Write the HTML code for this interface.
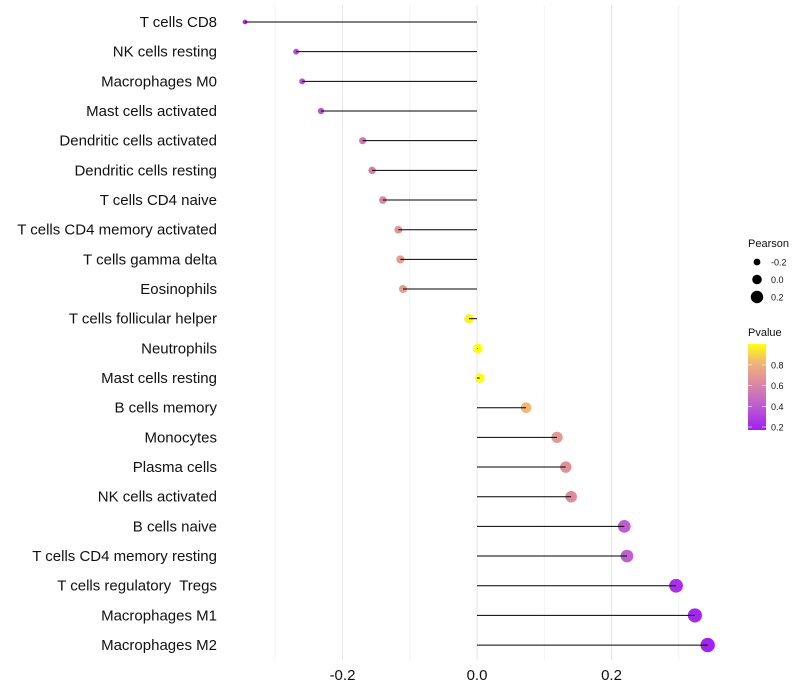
<!DOCTYPE html>
<html><head><meta charset="utf-8"><style>
body{margin:0;background:#fff;font-family:"Liberation Sans",sans-serif}
</style></head><body>
<svg id="chart" width="800" height="700" xmlns="http://www.w3.org/2000/svg" style="display:block">
<defs><linearGradient id="pg" x1="0" y1="1" x2="0" y2="0">
<stop offset="0" stop-color="#a020f0"/><stop offset="0.3" stop-color="#c060d0"/><stop offset="0.55" stop-color="#dc8aa0"/><stop offset="0.78" stop-color="#f0b47a"/><stop offset="1" stop-color="#ffff10"/></linearGradient></defs>
<g id="grid"></g><g id="points"></g><g id="marks"></g><g id="labels"></g><g id="legend"></g>
</svg>
<script>
const categories=["T cells CD8","NK cells resting","Macrophages M0","Mast cells activated","Dendritic cells activated","Dendritic cells resting","T cells CD4 naive","T cells CD4 memory activated","T cells gamma delta","Eosinophils","T cells follicular helper","Neutrophils","Mast cells resting","B cells memory","Monocytes","Plasma cells","NK cells activated","B cells naive","T cells CD4 memory resting","T cells regulatory  Tregs","Macrophages M1","Macrophages M2"];
const pearson=[-0.345,-0.269,-0.260,-0.232,-0.170,-0.156,-0.140,-0.117,-0.114,-0.110,-0.012,0.001,0.004,0.073,0.119,0.132,0.140,0.219,0.223,0.296,0.324,0.343];
const pvalue=[0.25,0.36,0.37,0.39,0.55,0.58,0.62,0.70,0.71,0.72,0.97,1.0,0.99,0.83,0.70,0.66,0.64,0.42,0.43,0.25,0.22,0.2];
const xTicks=[-0.2,0.0,0.2];
const xMinor=[-0.3,-0.1,0.1,0.3];
const sizeLegend=[-0.2,0.0,0.2];
const colorTicks=[0.2,0.4,0.6,0.8];
const NS="http://www.w3.org/2000/svg";
const xs=v=>477+v*672.5;
const ys=i=>22+i*29.67;
const rs=v=>4.8+7*v;
const stops=[[0,[160,32,240]],[0.3,[192,96,208]],[0.55,[220,138,160]],[0.78,[240,180,122]],[1,[255,255,16]]];
function col(p){let t=(p-0.19)/(1.0-0.19);t=Math.max(0,Math.min(1,t));
for(let k=1;k<stops.length;k++){if(t<=stops[k][0]){const a=stops[k-1],b=stops[k],f=(t-a[0])/(b[0]-a[0]);
return "rgb("+a[1].map((c,j)=>Math.round(c+(b[1][j]-c)*f)).join(",")+")";}}return "rgb(255,255,16)";}
function mk(tag,at,parent){const e=document.createElementNS(NS,tag);for(const k in at)e.setAttribute(k,at[k]);parent.appendChild(e);return e;}
const grid=document.getElementById('grid'),points=document.getElementById('points'),marks=document.getElementById('marks'),labels=document.getElementById('labels'),leg=document.getElementById('legend');
xMinor.forEach(v=>{const l=mk('line',{x1:xs(v),x2:xs(v),y1:5,y2:660,stroke:'#f2f2f2','stroke-width':1},grid);

});
xTicks.forEach(v=>{const l=mk('line',{x1:xs(v),x2:xs(v),y1:5,y2:660,stroke:'#e6e6e6','stroke-width':1},grid);


const t=mk('text',{x:xs(v),y:680,'text-anchor':'middle','font-size':15,fill:'#111'},labels);t.textContent=v.toFixed(1);

});
categories.forEach((c,i)=>{const y=ys(i);
const ci=mk('circle',{cx:xs(pearson[i]),cy:y,r:rs(pearson[i]),fill:col(pvalue[i])},points);


const ln=mk('line',{x1:xs(0),x2:xs(pearson[i]),y1:y,y2:y,stroke:'#000','stroke-width':1},marks);


const t=mk('text',{x:217,y:y+5,'text-anchor':'end','font-size':15,fill:'#111',style:'white-space:pre'},labels);t.textContent=c;

});
const lt=mk('text',{x:748,y:247,'font-size':11,fill:'#111'},leg);lt.textContent='Pearson';


sizeLegend.forEach((v,k)=>{const y=262+k*17.5;
const c=mk('circle',{cx:757,cy:y,r:rs(v),fill:'#000'},leg);


const t=mk('text',{x:771,y:y+3.5,'font-size':9,fill:'#111'},leg);t.textContent=v.toFixed(1);

});
const ct=mk('text',{x:748,y:336,'font-size':11,fill:'#111'},leg);ct.textContent='Pvalue';


const bar=mk('rect',{x:748,y:344,width:18,height:86,fill:'url(#pg)'},leg);


colorTicks.forEach(v=>{const y=427-(v-0.2)*103.5;
const t=mk('text',{x:771,y:y+3.5,'font-size':9,fill:'#111'},leg);t.textContent=v.toFixed(1);


mk('line',{x1:748,x2:752,y1:y,y2:y,stroke:'#fff','stroke-width':0.6},leg);
mk('line',{x1:762,x2:766,y1:y,y2:y,stroke:'#fff','stroke-width':0.6},leg);});
</script>
</body></html>
